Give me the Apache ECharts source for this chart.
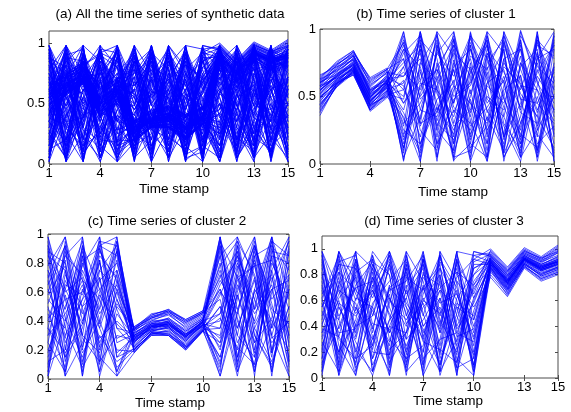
<!DOCTYPE html>
<html>
<head>
<meta charset="utf-8">
<script src="https://cdn.jsdelivr.net/npm/echarts@6/dist/echarts.min.js"></script>
<style>html,body{margin:0;padding:0;background:#fff}#c{width:571px;height:412px}</style>
</head>
<body>
<div id="c"></div>
<script>
var timeStamps = [1,2,3,4,5,6,7,8,9,10,11,12,13,14,15];
var xTicks = [1,4,7,10,13,15];
var yTicksA = [0,0.5,1];
var yTicksB = [0,0.5,1];
var yTicksC = [0,0.2,0.4,0.6,0.8,1];
var yTicksD = [0,0.2,0.4,0.6,0.8,1];
var titles = ['(a) All the time series of synthetic data','(b) Time series of cluster 1','(c) Time series of cluster 2','(d) Time series of cluster 3'];
var xName = 'Time stamp';

var cluster1 = [
[0.55,0.66,0.74,0.50,0.61,0.95,0.12,0.88,0.30,0.72,0.05,0.91,0.40,0.83,0.22],
[0.52,0.63,0.71,0.47,0.58,0.08,0.90,0.15,0.77,0.35,0.98,0.20,0.66,0.10,0.85],
[0.60,0.68,0.78,0.53,0.63,0.45,0.70,0.02,0.93,0.18,0.60,0.85,0.05,0.95,0.48],
[0.48,0.62,0.70,0.44,0.57,0.72,0.33,0.96,0.10,0.88,0.25,0.50,0.92,0.28,0.70],
[0.57,0.65,0.76,0.52,0.60,0.20,0.98,0.40,0.62,0.03,0.80,0.12,0.75,0.55,0.08],
[0.50,0.60,0.69,0.46,0.59,0.88,0.50,0.70,0.20,0.97,0.38,0.65,0.18,0.90,0.62],
[0.62,0.70,0.80,0.55,0.65,0.33,0.08,0.85,0.50,0.60,0.92,0.02,0.58,0.35,0.97],
[0.45,0.58,0.68,0.42,0.55,0.60,0.82,0.25,0.98,0.45,0.15,0.78,0.30,0.70,0.40],
[0.54,0.67,0.73,0.49,0.62,0.03,0.60,0.55,0.35,0.80,0.70,0.95,0.48,0.05,0.75],
[0.58,0.64,0.75,0.51,0.61,0.78,0.25,0.10,0.85,0.22,0.50,0.40,0.99,0.62,0.15],
[0.49,0.61,0.72,0.48,0.56,0.15,0.75,0.62,0.05,0.68,0.88,0.30,0.10,0.80,0.55],
[0.56,0.69,0.77,0.54,0.64,0.98,0.40,0.35,0.70,0.12,0.28,0.72,0.60,0.20,0.92],
[0.53,0.63,0.72,0.45,0.60,0.50,0.92,0.78,0.15,0.55,0.02,0.58,0.85,0.45,0.30],
[0.61,0.66,0.79,0.56,0.62,0.25,0.15,0.48,0.60,0.93,0.65,0.08,0.35,0.98,0.02],
[0.47,0.59,0.70,0.43,0.58,0.68,0.55,0.92,0.42,0.30,0.82,0.48,0.22,0.12,0.65],
[0.55,0.65,0.74,0.50,0.59,0.40,0.85,0.20,0.88,0.65,0.10,0.98,0.70,0.38,0.88],
[0.59,0.71,0.81,0.52,0.66,0.90,0.02,0.65,0.28,0.40,0.95,0.35,0.05,0.75,0.35],
[0.51,0.62,0.71,0.47,0.57,0.12,0.68,0.38,0.72,0.85,0.45,0.62,0.90,0.25,0.50],
[0.66,0.72,0.77,0.58,0.68,0.55,0.30,0.98,0.03,0.15,0.72,0.20,0.45,0.88,0.80],
[0.44,0.57,0.69,0.40,0.54,0.82,0.95,0.05,0.55,0.78,0.32,0.85,0.15,0.50,0.10],
[0.57,0.64,0.73,0.49,0.61,0.30,0.45,0.72,0.92,0.08,0.58,0.45,0.80,0.08,0.72],
[0.52,0.66,0.76,0.53,0.63,0.65,0.78,0.30,0.18,0.50,0.90,0.05,0.28,0.65,0.45],
[0.63,0.69,0.78,0.55,0.60,0.05,0.35,0.82,0.65,0.95,0.20,0.75,0.55,0.92,0.20],
[0.50,0.60,0.72,0.46,0.58,0.92,0.62,0.15,0.40,0.25,0.75,0.92,0.38,0.30,0.95],
[0.46,0.63,0.70,0.44,0.56,0.38,0.10,0.58,0.82,0.70,0.40,0.15,0.95,0.72,0.60],
[0.58,0.67,0.75,0.51,0.62,0.75,0.88,0.45,0.08,0.48,0.05,0.55,0.65,0.15,0.28],
[0.54,0.65,0.73,0.48,0.60,0.18,0.52,0.90,0.45,0.90,0.62,0.28,0.02,0.58,0.90],
[0.60,0.70,0.80,0.54,0.64,0.58,0.20,0.68,0.95,0.38,0.85,0.68,0.42,0.82,0.05],
[0.49,0.61,0.71,0.47,0.59,0.85,0.72,0.28,0.58,0.02,0.35,0.10,0.75,0.40,0.68],
[0.55,0.64,0.74,0.50,0.61,0.28,0.98,0.52,0.25,0.62,0.98,0.82,0.20,0.95,0.38],
[0.38,0.58,0.68,0.40,0.50,0.62,0.05,0.75,0.15,0.98,0.48,0.35,0.88,0.02,0.58],
[0.64,0.75,0.84,0.62,0.70,0.10,0.88,0.32,0.70,0.20,0.82,0.60,0.12,0.78,0.98],
[0.42,0.60,0.66,0.41,0.52,0.98,0.28,0.58,0.02,0.75,0.15,0.88,0.52,0.35,0.12],
[0.65,0.74,0.82,0.64,0.71,0.45,0.62,0.98,0.80,0.05,0.68,0.22,0.98,0.60,0.40],
[0.40,0.57,0.67,0.39,0.49,0.72,0.92,0.12,0.48,0.58,0.95,0.50,0.08,0.92,0.78],
[0.60,0.73,0.83,0.60,0.69,0.22,0.40,0.82,0.98,0.32,0.02,0.95,0.62,0.22,0.05],
[0.36,0.59,0.70,0.42,0.53,0.85,0.15,0.42,0.22,0.85,0.55,0.05,0.30,0.68,0.88],
[0.63,0.76,0.84,0.59,0.67,0.02,0.75,0.95,0.58,0.45,0.30,0.78,0.85,0.10,0.52],
[0.43,0.61,0.67,0.43,0.51,0.55,0.98,0.25,0.10,0.95,0.78,0.42,0.15,0.98,0.25],
[0.58,0.72,0.80,0.61,0.70,0.90,0.48,0.62,0.88,0.15,0.05,0.98,0.48,0.45,0.72],
[0.39,0.58,0.69,0.44,0.50,0.35,0.02,0.88,0.38,0.68,0.92,0.18,0.72,0.85,0.02],
[0.62,0.74,0.81,0.57,0.68,0.65,0.85,0.05,0.75,0.28,0.42,0.62,0.05,0.25,0.95],
[0.44,0.59,0.68,0.45,0.54,0.12,0.58,0.70,0.45,0.88,0.22,0.90,0.58,0.55,0.32],
[0.61,0.73,0.83,0.63,0.70,0.78,0.30,0.38,0.92,0.52,0.88,0.08,0.92,0.05,0.62],
[0.41,0.60,0.66,0.40,0.52,0.48,0.95,0.55,0.05,0.10,0.60,0.70,0.25,0.78,0.85]
];

var cluster2 = [
[0.95,0.20,0.85,0.10,0.90,0.27,0.35,0.38,0.29,0.39,0.98,0.15,0.80,0.05,0.70],
[0.10,0.88,0.30,0.95,0.15,0.30,0.37,0.40,0.31,0.40,0.05,0.92,0.20,0.85,0.30],
[0.55,0.40,0.98,0.22,0.60,0.22,0.33,0.35,0.26,0.37,0.60,0.45,0.95,0.18,0.88],
[0.72,0.05,0.50,0.80,0.35,0.32,0.38,0.42,0.33,0.41,0.88,0.10,0.55,0.98,0.12],
[0.30,0.75,0.12,0.55,0.98,0.26,0.36,0.37,0.28,0.38,0.25,0.78,0.05,0.60,0.95],
[0.85,0.60,0.70,0.02,0.45,0.29,0.34,0.39,0.30,0.36,0.45,0.98,0.35,0.12,0.50],
[0.02,0.95,0.40,0.68,0.80,0.34,0.40,0.45,0.35,0.42,0.72,0.30,0.88,0.45,0.05],
[0.62,0.28,0.88,0.40,0.08,0.20,0.32,0.33,0.24,0.36,0.15,0.65,0.40,0.92,0.75],
[0.40,0.82,0.05,0.90,0.55,0.28,0.37,0.38,0.30,0.40,0.92,0.35,0.70,0.28,0.40],
[0.90,0.12,0.62,0.35,0.72,0.25,0.36,0.36,0.27,0.38,0.35,0.88,0.15,0.75,0.98],
[0.20,0.50,0.78,0.98,0.25,0.31,0.39,0.41,0.32,0.41,0.80,0.05,0.62,0.40,0.20],
[0.78,0.98,0.22,0.60,0.88,0.27,0.34,0.37,0.29,0.39,0.02,0.55,0.98,0.20,0.62],
[0.48,0.35,0.92,0.15,0.02,0.30,0.38,0.40,0.31,0.37,0.65,0.82,0.25,0.90,0.35],
[0.05,0.68,0.45,0.75,0.62,0.23,0.33,0.36,0.22,0.35,0.50,0.20,0.85,0.02,0.82],
[0.98,0.42,0.15,0.50,0.95,0.33,0.41,0.44,0.36,0.43,0.20,0.70,0.45,0.65,0.08],
[0.35,0.90,0.68,0.28,0.40,0.28,0.36,0.39,0.29,0.40,0.95,0.40,0.10,0.80,0.55],
[0.68,0.15,0.35,0.85,0.70,0.26,0.35,0.38,0.28,0.37,0.40,0.95,0.72,0.35,0.92],
[0.15,0.62,0.95,0.05,0.50,0.35,0.42,0.47,0.37,0.44,0.75,0.25,0.50,0.95,0.28],
[0.58,0.78,0.02,0.70,0.18,0.29,0.37,0.39,0.30,0.39,0.10,0.60,0.92,0.55,0.72],
[0.82,0.25,0.55,0.92,0.85,0.24,0.34,0.35,0.25,0.36,0.58,0.85,0.30,0.10,0.45],
[0.25,0.05,0.80,0.45,0.65,0.30,0.36,0.40,0.31,0.40,0.85,0.15,0.60,0.72,0.15],
[0.65,0.92,0.28,0.12,0.30,0.27,0.38,0.37,0.29,0.38,0.28,0.72,0.02,0.88,0.85],
[0.42,0.55,0.60,0.95,0.92,0.32,0.39,0.42,0.34,0.42,0.68,0.48,0.82,0.30,0.02],
[0.92,0.35,0.08,0.30,0.12,0.21,0.31,0.34,0.23,0.35,0.30,0.92,0.38,0.62,0.68],
[0.08,0.72,0.50,0.62,0.75,0.28,0.35,0.38,0.29,0.39,0.98,0.08,0.92,0.48,0.38],
[0.75,0.48,0.90,0.20,0.55,0.25,0.37,0.36,0.27,0.37,0.12,0.58,0.18,0.98,0.58],
[0.35,0.18,0.38,0.82,0.05,0.31,0.40,0.41,0.33,0.41,0.62,0.35,0.68,0.15,0.90],
[0.52,0.85,0.72,0.38,0.82,0.29,0.36,0.38,0.30,0.40,0.45,0.80,0.48,0.70,0.25],
[0.88,0.02,0.25,0.58,0.38,0.26,0.33,0.36,0.26,0.38,0.90,0.42,0.08,0.38,0.78],
[0.18,0.65,0.58,0.88,0.68,0.30,0.38,0.39,0.31,0.39,0.22,0.68,0.78,0.82,0.48],
[0.98,0.55,0.10,0.75,0.92,0.18,0.31,0.30,0.21,0.33,0.08,0.75,0.98,0.35,0.58],
[0.12,0.20,0.85,0.35,0.05,0.36,0.44,0.48,0.40,0.46,0.92,0.30,0.15,0.68,0.95],
[0.70,0.98,0.48,0.05,0.68,0.20,0.32,0.31,0.22,0.34,0.50,0.02,0.62,0.98,0.22],
[0.35,0.08,0.92,0.62,0.28,0.34,0.43,0.46,0.39,0.45,0.78,0.95,0.30,0.08,0.65],
[0.85,0.75,0.20,0.92,0.98,0.19,0.30,0.30,0.20,0.33,0.25,0.62,0.92,0.52,0.02],
[0.02,0.40,0.65,0.25,0.52,0.35,0.45,0.47,0.41,0.47,0.98,0.48,0.05,0.85,0.80],
[0.60,0.92,0.02,0.82,0.15,0.21,0.31,0.32,0.21,0.34,0.35,0.85,0.55,0.25,0.40],
[0.45,0.15,0.75,0.48,0.88,0.33,0.42,0.45,0.38,0.45,0.62,0.12,0.85,0.92,0.12],
[0.92,0.62,0.38,0.98,0.35,0.22,0.33,0.31,0.23,0.34,0.15,0.58,0.25,0.42,0.98],
[0.25,0.85,0.98,0.12,0.75,0.36,0.43,0.47,0.40,0.46,0.85,0.98,0.70,0.05,0.62],
[0.75,0.30,0.55,0.70,0.02,0.18,0.32,0.30,0.20,0.33,0.42,0.22,0.10,0.75,0.30],
[0.05,0.58,0.18,0.40,0.95,0.34,0.44,0.48,0.41,0.47,0.70,0.88,0.48,0.95,0.85],
[0.50,0.02,0.82,0.90,0.48,0.20,0.31,0.33,0.22,0.34,0.02,0.45,0.90,0.18,0.50],
[0.88,0.80,0.30,0.18,0.62,0.35,0.42,0.46,0.39,0.46,0.55,0.05,0.35,0.62,0.10],
[0.30,0.45,0.68,0.55,0.20,0.19,0.30,0.31,0.21,0.33,0.95,0.70,0.78,0.30,0.72]
];

var cluster3 = [
[0.95,0.10,0.80,0.25,0.90,0.05,0.70,0.35,0.98,0.15,0.90,0.74,0.93,0.85,0.90],
[0.20,0.92,0.35,0.85,0.10,0.95,0.30,0.80,0.02,0.88,0.88,0.72,0.91,0.84,0.88],
[0.60,0.45,0.98,0.05,0.62,0.40,0.92,0.15,0.55,0.45,0.95,0.80,0.96,0.90,0.95],
[0.02,0.75,0.50,0.68,0.35,0.85,0.12,0.95,0.40,0.70,0.85,0.68,0.88,0.80,0.85],
[0.78,0.30,0.15,0.95,0.55,0.20,0.60,0.50,0.85,0.05,0.92,0.76,0.94,0.86,0.92],
[0.45,0.98,0.65,0.40,0.02,0.70,0.88,0.05,0.30,0.95,0.90,0.75,0.92,0.84,0.89],
[0.88,0.02,0.42,0.75,0.98,0.30,0.45,0.68,0.12,0.60,0.87,0.70,0.90,0.82,0.86],
[0.30,0.65,0.90,0.15,0.70,0.55,0.05,0.90,0.65,0.30,0.93,0.78,0.95,0.88,0.93],
[0.65,0.85,0.05,0.55,0.25,0.98,0.75,0.25,0.92,0.20,0.89,0.73,0.92,0.85,0.91],
[0.12,0.40,0.72,0.90,0.80,0.12,0.95,0.45,0.20,0.80,0.91,0.77,0.93,0.87,0.90],
[0.98,0.55,0.28,0.02,0.45,0.62,0.20,0.98,0.75,0.02,0.86,0.66,0.89,0.79,0.84],
[0.52,0.20,0.85,0.62,0.92,0.42,0.58,0.12,0.50,0.98,0.94,0.81,0.97,0.91,0.97],
[0.35,0.78,0.10,0.82,0.15,0.88,0.32,0.75,0.05,0.52,0.90,0.75,0.92,0.86,0.90],
[0.82,0.05,0.55,0.30,0.65,0.02,0.82,0.40,0.88,0.35,0.88,0.71,0.91,0.83,0.87],
[0.05,0.90,0.95,0.48,0.85,0.50,0.10,0.62,0.28,0.75,0.92,0.79,0.94,0.88,0.94],
[0.70,0.35,0.38,0.72,0.08,0.78,0.68,0.85,0.60,0.10,0.90,0.74,0.93,0.85,0.90],
[0.25,0.62,0.78,0.10,0.40,0.35,0.98,0.20,0.95,0.62,0.84,0.64,0.87,0.77,0.82],
[0.92,0.25,0.02,0.58,0.75,0.92,0.40,0.55,0.18,0.90,0.96,0.83,0.98,0.93,0.98],
[0.40,0.98,0.60,0.95,0.30,0.15,0.25,0.92,0.70,0.25,0.89,0.74,0.92,0.84,0.89],
[0.58,0.12,0.88,0.35,0.98,0.65,0.85,0.02,0.45,0.85,0.91,0.76,0.93,0.86,0.91],
[0.15,0.72,0.20,0.78,0.50,0.25,0.55,0.70,0.82,0.40,0.87,0.72,0.90,0.83,0.88],
[0.85,0.48,0.70,0.20,0.18,0.85,0.15,0.30,0.35,0.68,0.93,0.78,0.95,0.87,0.92],
[0.48,0.88,0.32,0.88,0.60,0.45,0.70,0.88,0.08,0.15,0.90,0.75,0.91,0.85,0.90],
[0.72,0.18,0.92,0.42,0.38,0.08,0.92,0.48,0.78,0.92,0.88,0.73,0.92,0.84,0.88],
[0.08,0.58,0.48,0.65,0.88,0.58,0.38,0.10,0.58,0.48,0.92,0.77,0.94,0.87,0.92],
[0.62,0.95,0.15,0.25,0.70,0.80,0.02,0.78,0.25,0.72,0.89,0.74,0.92,0.85,0.90],
[0.38,0.32,0.82,0.92,0.12,0.35,0.62,0.38,0.98,0.08,0.91,0.76,0.93,0.86,0.91],
[0.98,0.68,0.58,0.15,0.45,0.90,0.48,0.95,0.38,0.58,0.90,0.75,0.92,0.84,0.89],
[0.28,0.05,0.40,0.70,0.95,0.18,0.78,0.58,0.65,0.32,0.86,0.69,0.89,0.81,0.85],
[0.55,0.82,0.68,0.52,0.28,0.68,0.28,0.22,0.12,0.85,0.93,0.79,0.95,0.88,0.94],
[0.90,0.45,0.02,0.88,0.62,0.30,0.92,0.05,0.75,0.55,0.78,0.63,0.85,0.75,0.80],
[0.15,0.98,0.75,0.32,0.05,0.88,0.40,0.62,0.02,0.92,1.00,0.86,1.01,0.94,1.03],
[0.68,0.20,0.45,0.98,0.80,0.10,0.65,0.95,0.48,0.18,0.80,0.65,0.86,0.76,0.81],
[0.32,0.72,0.98,0.05,0.40,0.72,0.02,0.30,0.90,0.65,0.99,0.85,1.00,0.93,1.02],
[0.98,0.08,0.62,0.55,0.95,0.48,0.80,0.72,0.15,0.02,0.82,0.67,0.87,0.77,0.82],
[0.05,0.55,0.30,0.78,0.18,0.95,0.50,0.10,0.62,0.80,0.98,0.84,0.99,0.92,1.01],
[0.55,0.88,0.85,0.22,0.72,0.05,0.20,0.85,0.32,0.38,0.83,0.68,0.86,0.78,0.83],
[0.80,0.32,0.12,0.68,0.35,0.62,0.98,0.42,0.98,0.95,0.97,0.83,0.99,0.92,1.00],
[0.22,0.95,0.52,0.92,0.02,0.82,0.35,0.68,0.55,0.10,0.84,0.69,0.88,0.79,0.84],
[0.62,0.02,0.92,0.38,0.88,0.22,0.72,0.18,0.82,0.72,0.96,0.82,0.98,0.91,0.99],
[0.42,0.68,0.22,0.05,0.58,0.98,0.08,0.98,0.35,0.28,0.85,0.70,0.88,0.80,0.86],
[0.95,0.38,0.70,0.75,0.22,0.35,0.88,0.52,0.08,0.98,0.95,0.82,0.97,0.90,0.98],
[0.10,0.82,0.40,0.48,0.98,0.55,0.30,0.05,0.92,0.45,0.86,0.71,0.89,0.81,0.86],
[0.75,0.15,0.98,0.85,0.48,0.15,0.60,0.80,0.22,0.62,0.94,0.80,0.96,0.89,0.97],
[0.35,0.60,0.08,0.30,0.68,0.75,0.95,0.35,0.68,0.05,0.88,0.73,0.91,0.83,0.88]
];

var chart = echarts.init(document.getElementById('c'), null, {renderer: 'canvas'});
var FONT = 'Liberation Sans, Arial, Helvetica, sans-serif';
var grids = [
  {left: 49, top: 31, width: 239, height: 133},
  {left: 320, top: 29, width: 234, height: 135},
  {left: 48, top: 234, width: 241, height: 145},
  {left: 322, top: 236, width: 236, height: 142}
];
var yMax = [1.1, 1, 1, 1.1];
var yTicks = [yTicksA, yTicksB, yTicksC, yTicksD];
var panelData = [cluster1.concat(cluster2, cluster3), cluster1, cluster2, cluster3];
var lineColors = ['rgba(0,0,255,0.78)', 'rgba(0,0,255,0.72)', 'rgba(0,0,255,0.72)', 'rgba(0,0,255,0.72)'];
var lineWidths = [1.0, 0.9, 0.9, 0.9];

var xAxes = [], yAxes = [], series = [], titleArr = [];
grids.forEach(function (g, i) {
  g.show = true; g.borderColor = '#4d4d4d'; g.borderWidth = 1; g.backgroundColor = '#fff';
  xAxes.push({gridIndex: i, type: 'value', min: 1, max: 15, position: 'bottom',
    axisLine: {show: false}, splitLine: {show: false},
    axisTick: {show: true, inside: true, length: 3, customValues: xTicks, lineStyle: {color: '#4d4d4d'}},
    axisLabel: {customValues: xTicks, color: '#000', fontSize: 13, fontFamily: FONT, margin: 3}});
  xAxes.push({gridIndex: i, type: 'value', min: 1, max: 15, position: 'top',
    axisLine: {show: false}, splitLine: {show: false},
    axisTick: {show: true, inside: true, length: 3, customValues: xTicks, lineStyle: {color: '#4d4d4d'}},
    axisLabel: {show: false}});
  yAxes.push({gridIndex: i, type: 'value', min: 0, max: yMax[i], position: 'left',
    axisLine: {show: false}, splitLine: {show: false},
    axisTick: {show: true, inside: true, length: 3, customValues: yTicks[i], lineStyle: {color: '#4d4d4d'}},
    axisLabel: {customValues: yTicks[i], color: '#000', fontSize: 13, fontFamily: FONT, margin: 4}});
  yAxes.push({gridIndex: i, type: 'value', min: 0, max: yMax[i], position: 'right',
    axisLine: {show: false}, splitLine: {show: false},
    axisTick: {show: true, inside: true, length: 3, customValues: yTicks[i], lineStyle: {color: '#4d4d4d'}},
    axisLabel: {show: false}});
  panelData[i].forEach(function (row) {
    series.push({type: 'line', xAxisIndex: i * 2, yAxisIndex: i * 2, symbol: 'none', silent: true,
      animation: false, z: 2,
      lineStyle: {color: lineColors[i], width: lineWidths[i]},
      data: timeStamps.map(function (t, k) { return [t, row[k]]; })});
  });
});

var titlePos = [
  {left: 170, top: 7}, {left: 436, top: 7}, {left: 167, top: 214}, {left: 444, top: 214}
];
var xNamePos = [
  {left: 174, top: 182}, {left: 453, top: 185}, {left: 170, top: 396}, {left: 448, top: 394}
];
titles.forEach(function (t, i) {
  titleArr.push({text: t, left: titlePos[i].left, top: titlePos[i].top, textAlign: 'center', padding: 0,
    textStyle: {fontSize: 13.5, fontWeight: 'normal', color: '#000', fontFamily: FONT}});
  titleArr.push({text: xName, left: xNamePos[i].left, top: xNamePos[i].top, textAlign: 'center', padding: 0,
    textStyle: {fontSize: 13.5, fontWeight: 'normal', color: '#000', fontFamily: FONT}});
});

chart.setOption({
  animation: false,
  backgroundColor: '#fff',
  title: titleArr,
  grid: grids,
  xAxis: xAxes,
  yAxis: yAxes,
  series: series
});
</script>
</body>
</html>
